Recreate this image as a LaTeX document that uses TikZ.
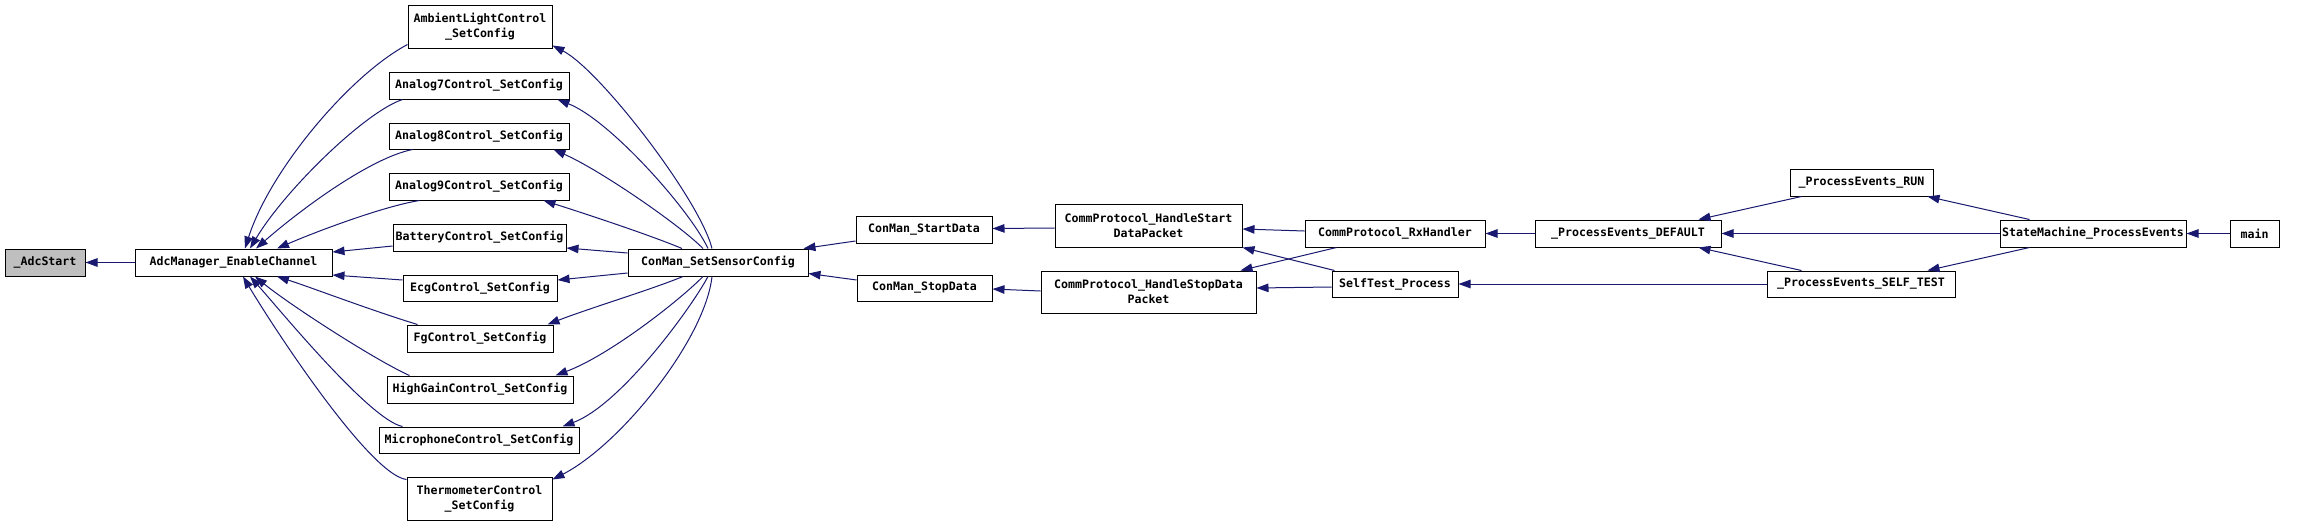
\documentclass[tikz,border=0pt]{standalone}
\usepackage{fontspec}
\newfontfamily\dxfont{DejaVu Sans Mono}
\usetikzlibrary{arrows.meta}
\definecolor{edgec}{HTML}{191970}
\definecolor{grayfill}{HTML}{BFBFBF}
\tikzset{
  box/.style={draw=black, line width=1pt, fill=white, inner sep=0pt, align=center,
    font={\dxfont\bfseries\fontsize{11.6}{15}\selectfont}},
  edge/.style={draw=edgec, line width=1pt, -{Triangle[length=12pt,width=8.5pt]}},
}
\begin{document}
\begin{tikzpicture}[x=1pt,y=-1pt]
\fill[white] (0,0) rectangle (2320,525);
\useasboundingbox (0,0) rectangle (2320,525);

% nodes
\node[box, fill=grayfill, minimum width=80pt, minimum height=27pt] (adc) at (45,262.5) {\_AdcStart};
\node[box, minimum width=197pt, minimum height=27pt] (mgr) at (233.5,262.5) {AdcManager\_EnableChannel};
\node[box, minimum width=144pt, minimum height=43pt] (amb) at (480,26.5) {AmbientLightControl\\\_SetConfig};
\node[box, minimum width=180pt, minimum height=27pt] (a7) at (479,85.5) {Analog7Control\_SetConfig};
\node[box, minimum width=180pt, minimum height=26pt] (a8) at (479,136) {Analog8Control\_SetConfig};
\node[box, minimum width=180pt, minimum height=27pt] (a9) at (479,186.5) {Analog9Control\_SetConfig};
\node[box, minimum width=173pt, minimum height=27pt] (bat) at (479.5,237.5) {BatteryControl\_SetConfig};
\node[box, minimum width=154pt, minimum height=26pt] (ecg) at (480,288) {EcgControl\_SetConfig};
\node[box, minimum width=146pt, minimum height=27pt] (fg) at (480,338.5) {FgControl\_SetConfig};
\node[box, minimum width=186pt, minimum height=27pt] (hg) at (480,389.5) {HighGainControl\_SetConfig};
\node[box, minimum width=200pt, minimum height=26pt] (mic) at (479,440) {MicrophoneControl\_SetConfig};
\node[box, minimum width=145pt, minimum height=43pt] (thm) at (479.5,498.5) {ThermometerControl\\\_SetConfig};
\node[box, minimum width=180pt, minimum height=27pt] (ssc) at (718,262.5) {ConMan\_SetSensorConfig};
\node[box, minimum width=136pt, minimum height=27pt] (sd) at (924,229.5) {ConMan\_StartData};
\node[box, minimum width=135pt, minimum height=26pt] (sp) at (924.5,288) {ConMan\_StopData};
\node[box, minimum width=187pt, minimum height=43pt] (hsd) at (1148.5,225.5) {CommProtocol\_HandleStart\\DataPacket};
\node[box, minimum width=215pt, minimum height=42pt] (hsp) at (1148.5,292) {CommProtocol\_HandleStopData\\Packet};
\node[box, minimum width=180pt, minimum height=27pt] (rx) at (1395,233.5) {CommProtocol\_RxHandler};
\node[box, minimum width=126pt, minimum height=26pt] (stp) at (1395,284) {SelfTest\_Process};
\node[box, minimum width=186pt, minimum height=27pt] (def) at (1628,233.5) {\_ProcessEvents\_DEFAULT};
\node[box, minimum width=143pt, minimum height=27pt] (run) at (1861.5,182.5) {\_ProcessEvents\_RUN};
\node[box, minimum width=188pt, minimum height=26pt] (st) at (1861,284) {\_ProcessEvents\_SELF\_TEST};
\node[box, minimum width=186pt, minimum height=27pt] (smp) at (2093,233.5) {StateMachine\_ProcessEvents};
\node[box, minimum width=49pt, minimum height=27pt] (main) at (2254.5,233.5) {main};

% edges into AdcStart
\draw[edge] (mgr.west) -- (adc.east);

% edges into AdcManager_EnableChannel
\draw[edge] ([yshift=4pt]amb.south west) .. controls (350,75) and (270,170) .. ([xshift=11.5pt]mgr.north);
\draw[edge] ([xshift=14pt]a7.south west) .. controls (365,112) and (285,190) .. ([xshift=16.5pt]mgr.north);
\draw[edge] ([xshift=24pt]a8.south west) .. controls (370,158) and (300,210) .. ([xshift=22.5pt]mgr.north);
\draw[edge] ([xshift=31pt]a9.south west) .. controls (385,206) and (320,230) .. ([xshift=43.5pt]mgr.north);
\draw[edge] ([yshift=-8.5pt]bat.west) -- ([yshift=10.5pt]mgr.east);
\draw[edge] ([yshift=8pt]ecg.west) -- ([yshift=-12.5pt]mgr.east);
\draw[edge] ([xshift=11pt]fg.north west) .. controls (370,310) and (310,287) .. ([xshift=43.5pt]mgr.south);
\draw[edge] ([xshift=23pt]hg.north west) .. controls (375,360) and (290,305) .. ([xshift=21.5pt]mgr.south);
\draw[edge] ([xshift=24pt]mic.north west) .. controls (370,420) and (280,310) .. ([xshift=16.5pt]mgr.south);
\draw[edge] ([yshift=-3pt]thm.north west) .. controls (370,475) and (275,330) .. ([xshift=9.5pt]mgr.south);

% edges from ConMan_SetSensorConfig
\draw[edge] ([xshift=-6pt]ssc.north) .. controls (700,200) and (600,70) .. ([yshift=3pt]amb.south east);
\draw[edge] ([xshift=-10pt]ssc.north) .. controls (690,210) and (610,120) .. ([xshift=-12pt]a7.south east);
\draw[edge] ([xshift=-15pt]ssc.north) .. controls (680,225) and (600,170) .. ([xshift=-16pt]a8.south east);
\draw[edge] ([xshift=-36pt]ssc.north) .. controls (650,235) and (580,212) .. ([xshift=-26pt]a9.south east);
\draw[edge] ([yshift=9.5pt]ssc.west) -- ([yshift=-10.5pt]bat.east);
\draw[edge] ([yshift=-10.5pt]ssc.west) -- ([yshift=8pt]ecg.east);
\draw[edge] ([xshift=-35pt]ssc.south) .. controls (650,290) and (590,308) .. ([xshift=-6pt]fg.north east);
\draw[edge] ([xshift=-15pt]ssc.south) .. controls (680,300) and (610,355) .. ([xshift=-18pt]hg.north east);
\draw[edge] ([xshift=-10pt]ssc.south) .. controls (690,310) and (620,405) .. ([xshift=-17pt]mic.north east);
\draw[edge] ([xshift=-6pt]ssc.south) .. controls (705,340) and (620,445) .. ([yshift=-3pt]thm.north east);

% middle chain
\draw[edge] ([yshift=-11.5pt]sd.west) -- ([xshift=-5pt]ssc.north east);
\draw[edge] ([yshift=8pt]sp.west) -- ([yshift=-11pt]ssc.east);
\draw[edge] ([yshift=-2.5pt]hsd.west) -- ([yshift=1pt]sd.east);
\draw[edge] ([yshift=1pt]hsp.west) -- ([yshift=-1pt]sp.east);
\draw[edge] ([yshift=2.5pt]rx.west) -- ([yshift=-3.5pt]hsd.east);
\draw[edge] ([xshift=32pt]rx.south west) -- ([xshift=-16pt]hsp.north east);
\draw[edge] ([xshift=3pt]stp.north west) -- (hsd.south east);
\draw[edge] ([yshift=-3pt]stp.west) -- ([yshift=4pt]hsp.east);
\draw[edge] (def.west) -- (rx.east);
\draw[edge] (st.west) -- (stp.east);

% right part
\draw[edge] ([xshift=12pt]run.south west) -- ([xshift=-23pt]def.north east);
\draw[edge] (smp.west) -- (def.east);
\draw[edge] ([xshift=35pt]st.north west) -- ([xshift=-23pt]def.south east);
\draw[edge] ([xshift=30pt]smp.north west) -- ([xshift=-6pt]run.south east);
\draw[edge] ([xshift=30pt]smp.south west) -- ([xshift=-28pt]st.north east);
\draw[edge] (main.west) -- (smp.east);
\end{tikzpicture}
\end{document}
